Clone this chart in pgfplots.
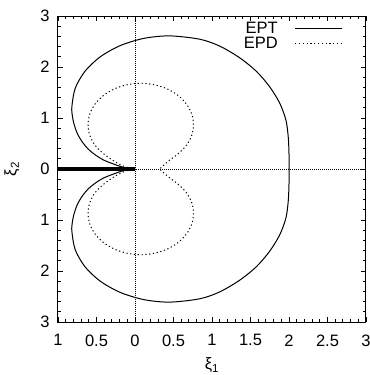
\documentclass[border=0pt]{standalone}
\usepackage{fontspec}
\setmainfont{Liberation Sans}
\usepackage{pgfplots}
\usepackage{pgfplotstable}
\pgfplotsset{compat=1.18}

\pgfplotstableread{
x y
0 0
-0.10 0.015
-0.20 0.055
-0.30 0.11
-0.40 0.17
-0.50 0.26
-0.60 0.38
-0.68 0.52
-0.75 0.70
-0.795 0.90
-0.815 1.06
-0.82 1.22
-0.777 1.58
-0.65 1.915
-0.448 2.203
-0.185 2.424
0.121 2.563
0.45 2.61
0.84 2.545
1.10 2.41
1.36 2.18
1.58 1.91
1.75 1.61
1.88 1.29
1.96 0.96
1.99 0.63
2.00 0.30
2.00 0
}\ept

\pgfplotstableread{
x y
0 0
-0.13 0.045
-0.2675 0.15
-0.409 0.30
-0.518 0.465
-0.587 0.66
-0.61 0.87
-0.587 1.08
-0.518 1.275
-0.409 1.443
-0.2675 1.571
-0.102 1.652
0.075 1.68
0.252 1.652
0.4175 1.571
0.559 1.443
0.668 1.275
0.737 1.08
0.76 0.87
0.737 0.66
0.668 0.465
0.559 0.297
0.43 0.15
0.32 0
}\epd

\begin{document}
\begin{tikzpicture}[font=\fontsize{16.5}{19}\selectfont]
\begin{axis}[
  scale only axis, width=308pt, height=306pt,
  xmin=-1, xmax=3, ymin=-3, ymax=3,
  xtick={-1,-0.5,0,0.5,1,1.5,2,2.5,3},
  xticklabels={1,0.5,0,0.5,1,1.5,2,2.5,3},
  ytick={-3,-2,-1,0,1,2,3},
  yticklabels={3,2,1,0,1,2,3},
  minor x tick num=4, minor y tick num=4,
  tick align=inside,
  major tick length=5pt, minor tick length=3pt,
  tick style={black, line width=0.8pt},
  axis line style={line width=1pt},
  tick label style={font=\fontsize{16.5}{19}\selectfont},
  xticklabel style={yshift=-9pt},
  yticklabel style={xshift=-5pt},
  label style={font=\fontsize{16.5}{19}\selectfont},
  xlabel={ξ\textsubscript{1}}, ylabel={ξ\textsubscript{2}},
  xlabel style={at={(axis description cs:0.5,-0.106)}, anchor=north},
  ylabel style={at={(axis description cs:-0.15,0.5)}, anchor=center},
  legend style={draw=none, fill=none, at={(1,1)}, anchor=north east, xshift=-20pt, yshift=-1.5pt,
    font=\fontsize{16.5}{19}\selectfont, row sep=-1pt},
  legend plot pos=right,
  legend cell align=right,
  legend image code/.code={\path (0pt,0pt); \draw[#1] (15pt,0pt) -- (62pt,0pt);},
]
\addplot[black, line width=1pt, smooth] table[x=x,y=y] {\ept};
\addlegendentry{EPT}
\addplot[black, line width=1pt, dash pattern=on 1.2pt off 2.6pt, smooth] table[x=x,y=y] {\epd};
\addlegendentry{EPD}
\addplot[black, line width=1pt, smooth, forget plot] table[x=x,y expr=-\thisrow{y}] {\ept};
\addplot[black, line width=1pt, dash pattern=on 1.2pt off 2.6pt, smooth, forget plot] table[x=x,y expr=-\thisrow{y}] {\epd};
\addplot[black, line width=0.6pt, dash pattern=on 0.6pt off 1.4pt, forget plot] coordinates {(0,-3) (0,3)};
\addplot[black, line width=0.6pt, dash pattern=on 0.6pt off 1.4pt, forget plot] coordinates {(-1,0) (3,0)};
\addplot[black, line width=3.5pt, forget plot] coordinates {(-1,0) (0,0)};
\end{axis}
\pgfresetboundingbox
\useasboundingbox ([shift={(-58pt,-53pt)}]current axis.south west) rectangle ([shift={(4pt,16pt)}]current axis.north east);
\end{tikzpicture}
\end{document}
